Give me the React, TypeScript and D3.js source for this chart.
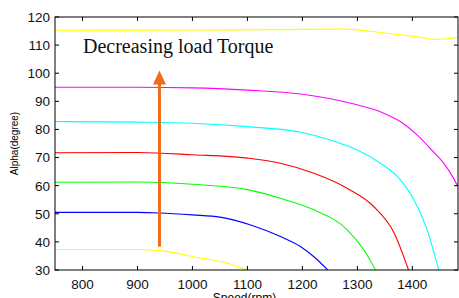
import React, { useEffect, useRef } from "react";
import * as d3 from "d3";

interface CurvePoint {
  speed: number;
  alpha: number;
}

const xTicks = [800, 900, 1000, 1100, 1200, 1300, 1400];
const yTicks = [30, 40, 50, 60, 70, 80, 90, 100, 110, 120];

const yellowTop: CurvePoint[] = [
  { speed: 750, alpha: 115.3 },
  { speed: 1000, alpha: 115.4 },
  { speed: 1150, alpha: 115.5 },
  { speed: 1275, alpha: 115.7 },
  { speed: 1350, alpha: 114.3 },
  { speed: 1400, alpha: 113.2 },
  { speed: 1442, alpha: 112.0 },
  { speed: 1483, alpha: 112.8 },
];

const magenta: CurvePoint[] = [
  { speed: 750, alpha: 95.0 },
  { speed: 900, alpha: 95.0 },
  { speed: 1000, alpha: 94.8 },
  { speed: 1100, alpha: 94.0 },
  { speed: 1197, alpha: 92.6 },
  { speed: 1288, alpha: 89.3 },
  { speed: 1348, alpha: 85.8 },
  { speed: 1378, alpha: 82.8 },
  { speed: 1409, alpha: 78.0 },
  { speed: 1438, alpha: 72.1 },
  { speed: 1457, alpha: 68.0 },
  { speed: 1475, alpha: 62.6 },
  { speed: 1483, alpha: 59.6 },
];

const cyan: CurvePoint[] = [
  { speed: 750, alpha: 82.8 },
  { speed: 900, alpha: 82.6 },
  { speed: 1000, alpha: 82.2 },
  { speed: 1100, alpha: 81.0 },
  { speed: 1197, alpha: 79.0 },
  { speed: 1250, alpha: 76.3 },
  { speed: 1300, alpha: 72.7 },
  { speed: 1342, alpha: 68.0 },
  { speed: 1373, alpha: 63.2 },
  { speed: 1403, alpha: 54.9 },
  { speed: 1427, alpha: 44.2 },
  { speed: 1448, alpha: 30 },
];

const red: CurvePoint[] = [
  { speed: 750, alpha: 71.7 },
  { speed: 900, alpha: 71.8 },
  { speed: 1000, alpha: 71.0 },
  { speed: 1100, alpha: 69.8 },
  { speed: 1160, alpha: 68.0 },
  { speed: 1221, alpha: 64.4 },
  { speed: 1282, alpha: 59.0 },
  { speed: 1330, alpha: 52.5 },
  { speed: 1367, alpha: 43.1 },
  { speed: 1393, alpha: 30 },
];

const green: CurvePoint[] = [
  { speed: 750, alpha: 61.2 },
  { speed: 900, alpha: 61.3 },
  { speed: 1000, alpha: 60.5 },
  { speed: 1100, alpha: 58.6 },
  { speed: 1160, alpha: 55.5 },
  { speed: 1221, alpha: 51.4 },
  { speed: 1282, alpha: 44.2 },
  { speed: 1312, alpha: 37.1 },
  { speed: 1333, alpha: 30 },
];

const blue: CurvePoint[] = [
  { speed: 750, alpha: 50.5 },
  { speed: 900, alpha: 50.5 },
  { speed: 940, alpha: 50.3 },
  { speed: 1000, alpha: 49.6 },
  { speed: 1050, alpha: 48.8 },
  { speed: 1106, alpha: 46.0 },
  { speed: 1160, alpha: 41.9 },
  { speed: 1197, alpha: 38.3 },
  { speed: 1221, alpha: 34.7 },
  { speed: 1246, alpha: 30 },
];

const yellowBottom: CurvePoint[] = [
  { speed: 750, alpha: 37.3 },
  { speed: 900, alpha: 37.3 },
  { speed: 950, alpha: 36.7 },
  { speed: 1000, alpha: 34.8 },
  { speed: 1064, alpha: 32.4 },
  { speed: 1100, alpha: 30 },
];

const series = [
  { name: "yellowTop", color: "#ffff00", points: yellowTop },
  { name: "magenta", color: "#ff00ff", points: magenta },
  { name: "cyan", color: "#00ffff", points: cyan },
  { name: "red", color: "#ff0000", points: red },
  { name: "green", color: "#00ff00", points: green },
  { name: "blue", color: "#0000ff", points: blue },
  { name: "yellowBottom", color: "#ffff00", points: yellowBottom },
];

// arrow drawn at this speed, from / to these alpha values
const arrowSpeed = 940;
const arrowFrom = 38.3;
const arrowTo = 101;

const App: React.FC = () => {
  const ref = useRef<SVGSVGElement | null>(null);
  const width = 459;
  const height = 298;

  useEffect(() => {
    document.body.style.margin = "0";

    const margin = { top: 17, right: 1, bottom: 28, left: 55 };
    const w = width - margin.left - margin.right;
    const h = height - margin.top - margin.bottom;

    d3.select(ref.current).selectAll("*").remove();

    const svg = d3
      .select(ref.current)
      .attr("width", width)
      .attr("height", height)
      .append("g")
      .attr("transform", `translate(${margin.left},${margin.top})`);

    const x = d3.scaleLinear().domain([750, 1483]).range([0, w]);
    const y = d3.scaleLinear().domain([30, 120]).range([h, 0]);

    // clip so curves stop at the frame
    svg
      .append("clipPath")
      .attr("id", "plot-clip")
      .append("rect")
      .attr("width", w)
      .attr("height", h);

    const line = d3
      .line<CurvePoint>()
      .x((d) => x(d.speed))
      .y((d) => y(d.alpha))
      .curve(d3.curveMonotoneX);

    const curves = svg.append("g").attr("clip-path", "url(#plot-clip)");
    series.forEach((s) => {
      curves
        .append("path")
        .datum(s.points)
        .attr("d", line)
        .attr("fill", "none")
        .attr("stroke", s.color)
        .attr("stroke-width", 1.1);
    });

    // Frame
    svg
      .append("rect")
      .attr("width", w)
      .attr("height", h)
      .attr("fill", "none")
      .attr("stroke", "#000")
      .attr("stroke-width", 1);

    const tickLen = 4;
    const tickFont = "Liberation Sans, Arial, sans-serif";

    // X ticks (inward, bottom and top)
    xTicks.forEach((t) => {
      const xp = x(t);
      svg.append("line").attr("x1", xp).attr("x2", xp).attr("y1", h).attr("y2", h - tickLen).attr("stroke", "#000");
      svg.append("line").attr("x1", xp).attr("x2", xp).attr("y1", 0).attr("y2", tickLen).attr("stroke", "#000");
      svg
        .append("text")
        .attr("x", xp)
        .attr("y", h + 19)
        .attr("text-anchor", "middle")
        .style("font-family", tickFont)
        .style("font-size", "13.5px")
        .attr("fill", "#111")
        .text(t);
    });

    // Y ticks (inward, left and right)
    yTicks.forEach((t) => {
      const yp = y(t);
      svg.append("line").attr("x1", 0).attr("x2", tickLen).attr("y1", yp).attr("y2", yp).attr("stroke", "#000");
      svg.append("line").attr("x1", w).attr("x2", w - tickLen).attr("y1", yp).attr("y2", yp).attr("stroke", "#000");
      svg
        .append("text")
        .attr("x", -5)
        .attr("y", yp)
        .attr("dy", "0.36em")
        .attr("text-anchor", "end")
        .style("font-family", tickFont)
        .style("font-size", "13.5px")
        .attr("fill", "#111")
        .text(t);
    });

    // Axis labels
    svg
      .append("text")
      .attr("x", w / 2 - 12)
      .attr("y", h + 32)
      .attr("text-anchor", "middle")
      .style("font-family", tickFont)
      .style("font-size", "12px")
      .text("Speed(rpm)");

    svg
      .append("text")
      .attr("transform", `translate(${-37},${h / 2}) rotate(-90)`)
      .attr("text-anchor", "middle")
      .style("font-family", tickFont)
      .style("font-size", "10px")
      .text("Alpha(degree)");

    // Arrow
    const ax = x(arrowSpeed);
    const tipY = y(arrowTo);
    const headH = 14;
    const headW = 13;
    svg
      .append("line")
      .attr("x1", ax)
      .attr("x2", ax)
      .attr("y1", y(arrowFrom))
      .attr("y2", tipY + headH - 1)
      .attr("stroke", "#f26a1b")
      .attr("stroke-width", 3);
    svg
      .append("path")
      .attr(
        "d",
        `M${ax},${tipY} L${ax - headW / 2},${tipY + headH} L${ax + headW / 2},${tipY + headH} Z`,
      )
      .attr("fill", "#f26a1b");

    // Annotation
    svg
      .append("text")
      .attr("x", 28)
      .attr("y", 36)
      .style("font-family", "Liberation Serif, Times New Roman, serif")
      .style("font-size", "20px")
      .attr("fill", "#111")
      .text("Decreasing load Torque");
  }, []);

  return <svg ref={ref}></svg>;
};

export default App;
